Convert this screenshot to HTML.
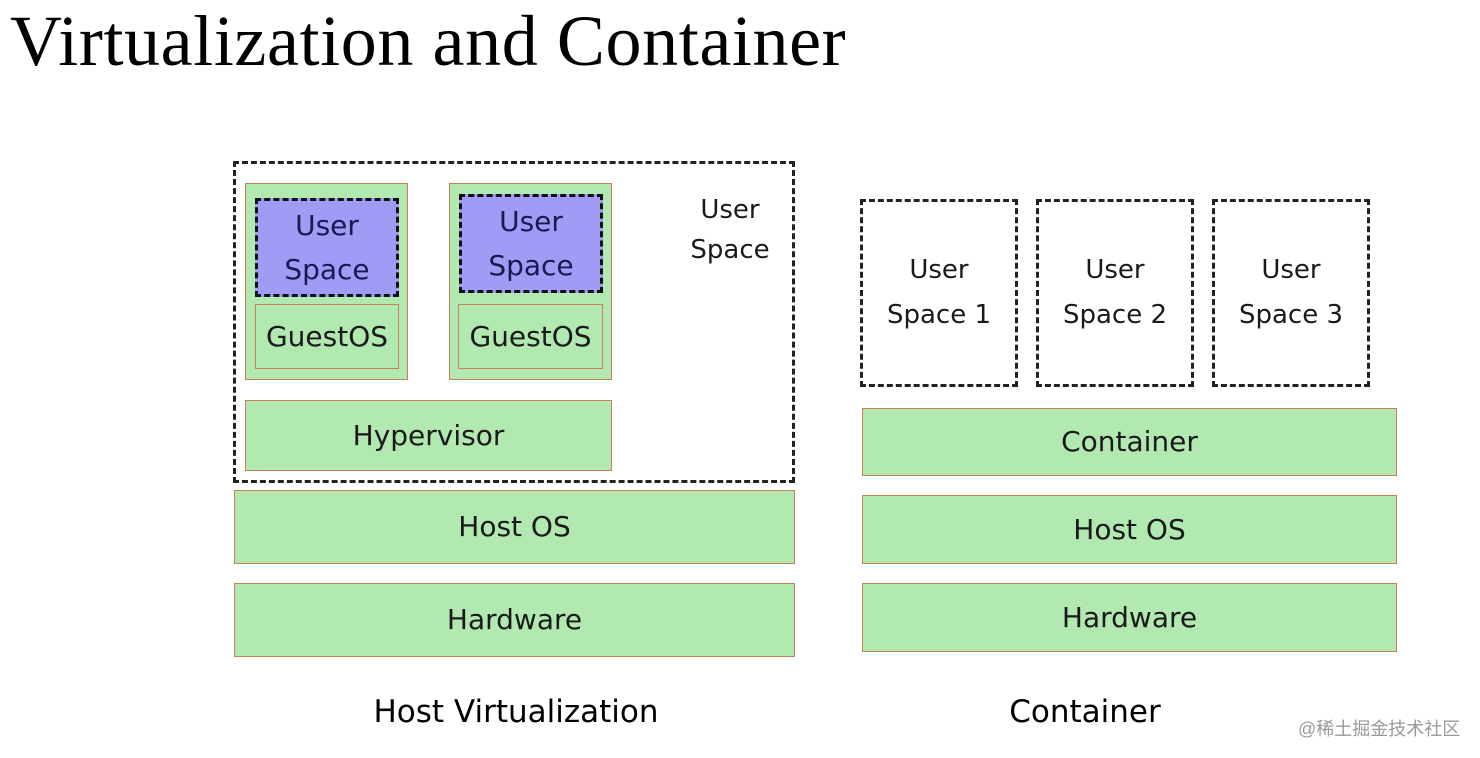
<!DOCTYPE html>
<html><head><meta charset="utf-8"><style>
body{margin:0;width:1480px;height:758px;background:#fff;position:relative;overflow:hidden;font-family:"DejaVu Sans","Liberation Sans",sans-serif;}
.a{position:absolute;box-sizing:border-box;display:flex;align-items:center;justify-content:center;text-align:center;color:#1a1a1a;font-size:28px;line-height:1.55;}
.g{background:#b1e9b1;border:1.5px solid #c8805a;}
.p{background:#a09cf6;border:3px dashed #111;color:#1a1a50;}
.d{border:3px dashed #222;background:#fff;}
</style></head><body>
<div style="position:absolute;left:10px;top:0px;font-family:'Liberation Serif',serif;font-size:72px;color:#000;white-space:nowrap;letter-spacing:0.6px">Virtualization and Container</div>

<div class="a d" style="left:233px;top:161px;width:562px;height:322px"></div>
<div class="a g" style="left:245px;top:183px;width:163px;height:197px"></div>
<div class="a p" style="left:255px;top:198px;width:144px;height:99px">User<br>Space</div>
<div class="a g" style="left:255px;top:304px;width:144px;height:65px">GuestOS</div>
<div class="a g" style="left:449px;top:183px;width:163px;height:197px"></div>
<div class="a p" style="left:459px;top:194px;width:144px;height:99px">User<br>Space</div>
<div class="a g" style="left:458px;top:304px;width:145px;height:65px">GuestOS</div>
<div class="a" style="left:670px;top:190px;width:120px;height:80px;line-height:40px;font-size:26px">User<br>Space</div>
<div class="a g" style="left:245px;top:400px;width:367px;height:71px">Hypervisor</div>
<div class="a g" style="left:234px;top:490px;width:561px;height:74px">Host OS</div>
<div class="a g" style="left:234px;top:583px;width:561px;height:74px">Hardware</div>

<div class="a d" style="left:860px;top:199px;width:158px;height:188px;line-height:45px;font-size:26px">User<br>Space 1</div>
<div class="a d" style="left:1036px;top:199px;width:158px;height:188px;line-height:45px;font-size:26px">User<br>Space 2</div>
<div class="a d" style="left:1212px;top:199px;width:158px;height:188px;line-height:45px;font-size:26px">User<br>Space 3</div>
<div class="a g" style="left:862px;top:408px;width:535px;height:68px">Container</div>
<div class="a g" style="left:862px;top:495px;width:535px;height:69px">Host OS</div>
<div class="a g" style="left:862px;top:583px;width:535px;height:69px">Hardware</div>

<div class="a" style="left:316px;top:690px;width:400px;height:44px;font-size:31px;color:#000">Host Virtualization</div>
<div class="a" style="left:935px;top:690px;width:300px;height:44px;font-size:31px;color:#000">Container</div>
<div style="position:absolute;left:1298px;top:715px;font-size:18px;color:#999;font-family:'Liberation Sans','Noto Sans CJK SC',sans-serif">@稀土掘金技术社区</div>
</body></html>
